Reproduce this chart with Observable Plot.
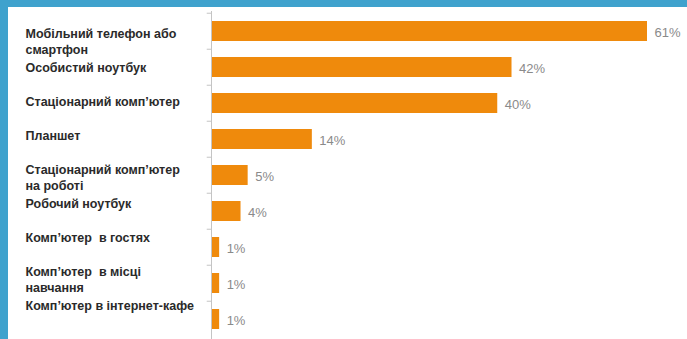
<!DOCTYPE html>
<html>
<head>
<meta charset="utf-8">
<script src="https://cdn.jsdelivr.net/npm/d3@7"></script>
<script src="https://cdn.jsdelivr.net/npm/@observablehq/plot@0.6"></script>
<style>
  html, body { margin: 0; padding: 0; }
  body { width: 687px; height: 339px; background: #3fa2cd; overflow: hidden; position: relative; font-family: "Liberation Sans", Arial, sans-serif; }
  #panel { position: absolute; left: 8px; top: 7px; width: 679px; height: 332px; background: #ffffff; overflow: hidden; }
  #panel > svg, #panel > figure { position: absolute; left: 0; top: 0; margin: 0; }
</style>
</head>
<body>
<div id="panel"></div>
<script>
const categories = [
  "Мобільний телефон або\nсмартфон",
  "Особистий ноутбук",
  "Стаціонарний комп’ютер",
  "Планшет",
  "Стаціонарний комп’ютер\nна роботі",
  "Робочий ноутбук",
  "Комп’ютер  в гостях",
  "Комп’ютер  в місці\nнавчання",
  "Комп’ютер в інтернет-кафе"
];
const values = [61, 42, 40, 14, 5, 4, 1, 1, 1];

const data = categories.map((c, i) => ({label: c, value: values[i]}));

const W = 679, H = 333;
const mTop = 4, mBottom = 0;
const step = (H - mTop - mBottom) / categories.length;

const bars = Plot.plot({
  width: W, height: H,
  marginLeft: 204, marginRight: 40, marginTop: mTop, marginBottom: mBottom,
  style: {background: "transparent", overflow: "visible"},
  x: {domain: [0, 61], axis: null},
  y: {domain: categories, paddingInner: 0.44, paddingOuter: 0.22, axis: null},
  marks: [
    Plot.barX(data, {x: "value", y: "label", fill: "#ef8a0c"}),
    Plot.ruleX([0], {stroke: "#c4c4c4", dx: -1}),
    Plot.ruleY(categories, {y: d => d, x1: -0.6, x2: 0, dx: -1, dy: -step / 2, stroke: "#c4c4c4"}),
    Plot.text(data, {
      x: "value", y: "label", text: d => d.value + "%",
      textAnchor: "start", dx: 7, dy: 1, fill: "#8a8a8a",
      fontSize: 13, fontFamily: "Liberation Sans, Arial, sans-serif",
      style: "letter-spacing: 1px"
    })
  ]
});

const labels = Plot.plot({
  width: W, height: 332,
  marginLeft: 17, marginRight: 0, marginTop: -1, marginBottom: 21,
  style: {background: "transparent", overflow: "visible"},
  x: {axis: null},
  y: {type: "point", domain: categories, padding: 0.5, axis: null},
  marks: [
    Plot.text(data, {
      y: "label", text: "label", frameAnchor: "left",
      textAnchor: "start", lineAnchor: "top", lineHeight: 1.3,
      fill: "#2a2a2a", fontWeight: "bold", fontSize: 12.5,
      fontFamily: "Liberation Sans, Arial, sans-serif"
    })
  ]
});

const panel = document.getElementById("panel");
panel.appendChild(bars);
panel.appendChild(labels);
</script>
</body>
</html>
